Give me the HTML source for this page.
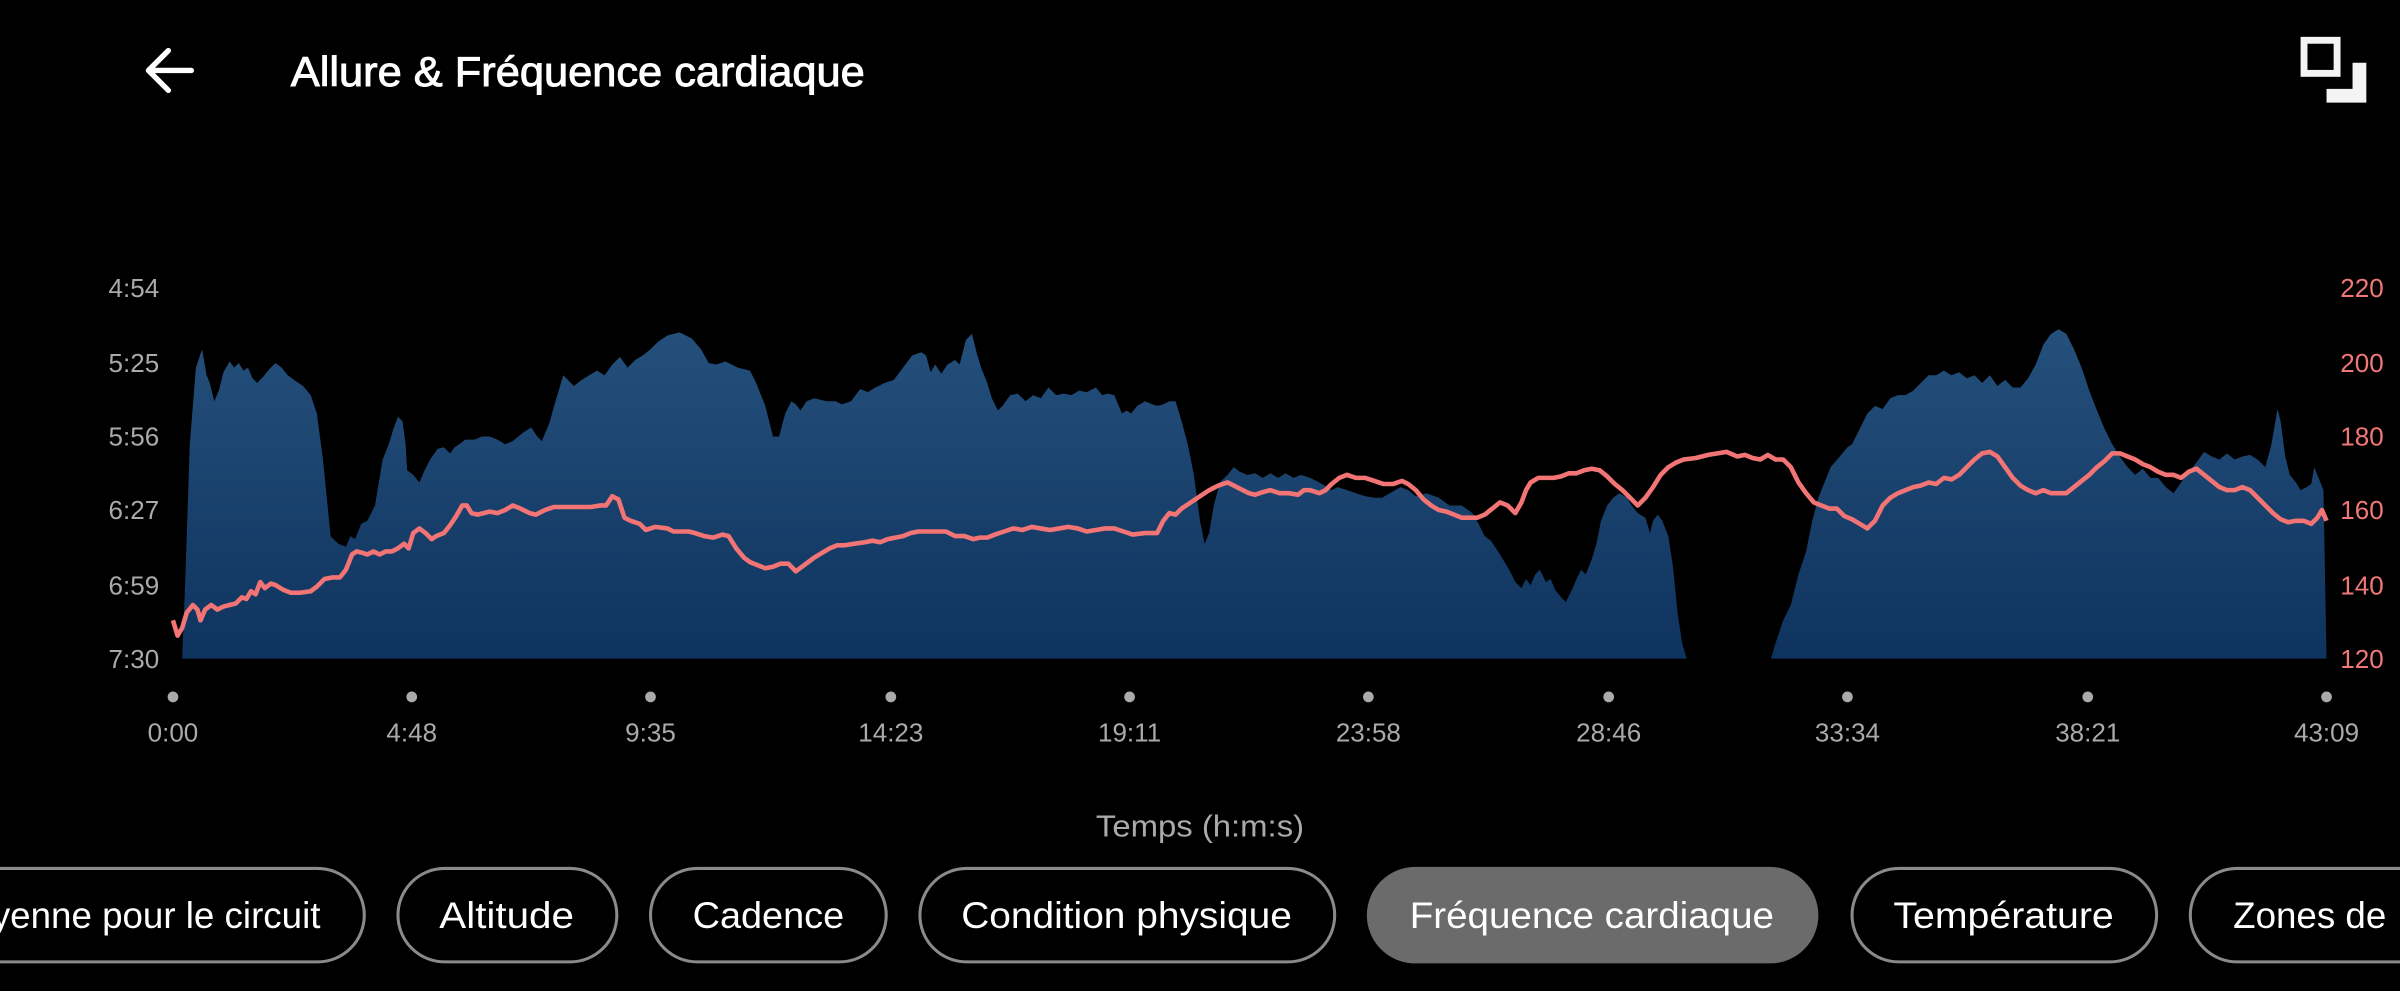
<!DOCTYPE html>
<html><head><meta charset="utf-8"><style>
html,body{margin:0;padding:0;background:#000;overflow:hidden}
svg{display:block}
text{font-family:"Liberation Sans",sans-serif}
</style></head><body>
<svg width="2400" height="991" viewBox="0 0 1568 647" preserveAspectRatio="none">
<defs><linearGradient id="g" x1="0" y1="0" x2="0" y2="1"><stop offset="0" stop-color="#25507c"/><stop offset="1" stop-color="#0e335e"/></linearGradient></defs>
<rect width="1568" height="647" fill="#000"/>
<!-- header -->
<path d="M125 46 H98 M110 33 L97 46 L110 59" stroke="#fff" stroke-width="3.5" fill="none" stroke-linecap="round" stroke-linejoin="round"/>
<text x="190" y="56" font-size="27" fill="#fff" stroke="#fff" stroke-width="0.6" textLength="375" lengthAdjust="spacingAndGlyphs">Allure &amp; Fréquence cardiaque</text>
<rect x="1505.3" y="26.3" width="21.6" height="21.6" fill="none" stroke="#f4f4f4" stroke-width="4.5"/>
<path d="M1537 41 H1546 V67 H1520 V58 H1537 Z" fill="#f4f4f4"/>
<!-- axis labels -->
<g font-size="17" fill="#aaa" text-anchor="end">
<text x="104" y="194">4:54</text><text x="104" y="243">5:25</text><text x="104" y="291">5:56</text><text x="104" y="339">6:27</text><text x="104" y="388">6:59</text><text x="104" y="436">7:30</text></g>
<g font-size="17" fill="#f07878" text-anchor="start">
<text x="1529" y="194">220</text><text x="1529" y="243">200</text><text x="1529" y="291">180</text><text x="1529" y="339">160</text><text x="1529" y="388">140</text><text x="1529" y="436">120</text></g>
<!-- area -->
<polygon fill="url(#g)" points="119,430 121,380 124,290 128,240 132,228 135,245 137,250 140,262 143,255 146,243 150,236 153,240 156,237 159,242 162,240 165,247 168,250 172,246 176,241 180,237 184,240 188,245 192,248 198,252 203,258 207,270 211,300 216,350 221,355 226,357 229,350 232,352 236,342 240,340 245,330 250,300 254,290 257,280 260,272 263,275 265,290 266,307 270,310 274,315 277,308 281,300 286,293 290,292 294,296 297,292 300,290 304,287 310,287 315,285 320,285 325,287 330,290 335,288 341,283 347,279 351,285 354,288 359,276 362,265 365,255 368,245 371,248 375,252 380,248 385,245 390,242 395,245 400,238 405,233 410,240 415,235 420,232 425,228 430,223 436,219 444,217 452,221 458,228 463,237 468,238 474,236 482,240 490,242 494,250 500,265 505,285 509,285 513,270 517,262 520,264 523,268 527,262 532,260 540,262 546,262 550,264 556,262 562,254 567,256 572,253 578,250 584,248 590,240 596,232 602,230 605,232 608,243 611,238 615,244 619,238 624,235 627,238 631,222 635,218 638,230 641,240 645,250 648,260 652,268 655,265 660,258 665,257 670,262 675,258 680,260 685,253 690,258 695,257 700,258 705,255 710,256 716,253 720,258 724,257 728,258 733,270 736,268 739,270 743,265 748,262 753,264 756,265 760,264 764,262 768,262 772,275 776,290 780,310 784,340 787,355 790,348 793,330 797,315 802,310 806,305 810,308 815,310 820,309 825,312 830,309 835,312 840,309 845,312 850,310 856,312 862,315 867,318 870,320 874,318 880,320 886,322 892,324 898,325 903,325 908,322 915,318 920,320 925,324 932,322 940,325 947,330 955,330 962,335 966,342 970,350 974,353 980,362 986,372 990,380 994,384 997,378 1000,382 1003,375 1006,372 1010,380 1013,378 1016,385 1020,390 1023,393 1027,385 1030,378 1033,372 1036,375 1040,365 1043,355 1046,340 1050,330 1054,325 1058,322 1063,325 1066,330 1070,335 1075,338 1078,348 1080,340 1083,336 1086,340 1090,350 1093,370 1096,400 1099,420 1102,430 1157,430 1160,420 1165,405 1170,395 1175,375 1180,360 1184,340 1188,325 1192,315 1196,305 1202,298 1207,292 1210,290 1215,280 1220,270 1225,265 1230,267 1235,260 1240,258 1245,258 1250,255 1255,250 1260,245 1265,245 1270,242 1275,245 1280,243 1285,247 1290,245 1295,250 1300,245 1305,252 1310,248 1315,253 1320,253 1325,247 1330,238 1335,225 1340,218 1345,215 1350,218 1355,228 1360,240 1365,255 1370,268 1375,280 1380,290 1385,298 1390,305 1395,310 1400,306 1405,312 1410,312 1415,318 1420,322 1425,315 1430,308 1435,302 1440,295 1445,298 1450,300 1455,296 1460,300 1465,298 1470,297 1475,300 1480,305 1484,290 1488,267 1490,275 1493,298 1496,310 1500,315 1503,320 1507,318 1510,316 1512,305 1514,310 1516,315 1518,320 1520,430"/>
<!-- HR line -->
<polyline fill="none" stroke="#f27474" stroke-width="3" stroke-linejoin="round" points="113,405 116,415 119,410 122,400 126,395 129,398 131,405 134,398 138,395 142,398 146,396 150,395 154,394 158,390 161,391 164,386 167,388 170,380 173,384 177,381 180,382 185,385 190,387 196,387 203,386 207,383 212,378 217,377 222,377 226,372 230,362 233,360 237,361 240,362 244,360 248,362 252,360 256,360 260,358 264,355 267,358 270,348 274,345 278,348 282,352 285,350 290,348 294,343 298,337 302,330 305,330 308,335 312,336 316,335 320,334 325,335 330,333 335,330 340,332 346,335 350,336 356,333 362,331 370,331 378,331 386,331 392,330 396,330 400,324 404,326 408,338 412,340 418,342 422,346 428,344 436,345 440,347 446,347 450,347 454,348 460,350 466,351 472,349 476,350 481,358 486,364 490,367 495,369 500,371 505,370 510,368 515,368 520,373 524,370 528,367 532,364 537,361 542,358 547,356 552,356 558,355 565,354 570,353 575,354 580,352 585,351 590,350 595,348 600,347 606,347 612,347 618,347 624,350 630,350 636,352 640,351 645,351 650,349 656,347 662,345 668,346 674,344 680,345 686,346 692,345 698,344 704,345 710,347 716,346 722,345 728,345 734,347 740,349 748,348 756,348 760,340 764,335 768,336 772,332 778,328 784,324 790,320 796,317 802,315 808,318 812,320 816,322 820,323 826,321 830,320 836,322 842,322 848,323 852,320 856,320 862,322 866,320 870,316 875,312 880,310 886,312 892,312 898,314 904,316 910,316 916,314 920,316 925,320 930,326 935,330 940,333 945,334 950,336 955,338 960,338 965,338 970,336 975,332 980,328 985,330 990,335 994,328 997,320 1000,315 1005,312 1010,312 1015,312 1020,311 1025,309 1030,309 1035,307 1040,306 1045,307 1050,311 1055,316 1060,320 1065,325 1070,330 1075,325 1080,318 1085,310 1090,305 1095,302 1100,300 1108,299 1116,297 1122,296 1128,295 1135,298 1140,297 1145,299 1150,300 1155,297 1160,300 1165,300 1170,305 1175,315 1180,322 1185,328 1190,330 1195,332 1200,332 1205,337 1210,339 1215,342 1220,345 1225,340 1230,330 1235,325 1240,322 1245,320 1250,318 1255,317 1260,315 1265,316 1270,312 1275,313 1280,310 1285,305 1290,300 1295,296 1300,295 1305,298 1310,305 1315,312 1320,317 1325,320 1330,322 1335,320 1340,322 1345,322 1350,322 1355,318 1360,314 1365,310 1370,305 1375,301 1380,296 1385,296 1390,298 1395,300 1400,303 1405,305 1410,308 1415,310 1420,310 1425,312 1430,308 1435,306 1440,310 1445,314 1450,318 1455,320 1460,320 1465,318 1470,320 1475,325 1480,330 1485,335 1490,339 1495,341 1500,340 1505,340 1510,342 1514,338 1517,333 1520,340"/>
<!-- x ticks -->
<g fill="#aaa"><circle cx="113" cy="455" r="3.5"/><circle cx="269" cy="455" r="3.5"/><circle cx="425" cy="455" r="3.5"/><circle cx="582" cy="455" r="3.5"/><circle cx="738" cy="455" r="3.5"/><circle cx="894" cy="455" r="3.5"/><circle cx="1051" cy="455" r="3.5"/><circle cx="1207" cy="455" r="3.5"/><circle cx="1364" cy="455" r="3.5"/><circle cx="1520" cy="455" r="3.5"/></g>
<g font-size="17" fill="#aaa" text-anchor="middle">
<text x="113" y="484">0:00</text><text x="269" y="484">4:48</text><text x="425" y="484">9:35</text><text x="582" y="484">14:23</text><text x="738" y="484">19:11</text><text x="894" y="484">23:58</text><text x="1051" y="484">28:46</text><text x="1207" y="484">33:34</text><text x="1364" y="484">38:21</text><text x="1520" y="484">43:09</text>
<text x="784" y="546" font-size="20" textLength="136" lengthAdjust="spacingAndGlyphs">Temps (h:m:s)</text></g>
<!-- pills -->
<g fill="none" stroke="#8a8a8a" stroke-width="2">
<rect x="-60" y="567" width="298" height="61" rx="30.5"/>
<rect x="260" y="567" width="143" height="61" rx="30.5"/>
<rect x="425" y="567" width="154" height="61" rx="30.5"/>
<rect x="601" y="567" width="271" height="61" rx="30.5"/>
<rect x="1210" y="567" width="199" height="61" rx="30.5"/>
<rect x="1431" y="567" width="200" height="61" rx="30.5"/>
</g>
<rect x="893" y="566" width="295" height="63" rx="31.5" fill="#6b6b6b"/>
<g font-size="24" fill="#fff" text-anchor="middle">
<text x="102" y="606">yenne pour le circuit</text>
<text x="331" y="606" textLength="88" lengthAdjust="spacingAndGlyphs">Altitude</text>
<text x="502" y="606" textLength="99" lengthAdjust="spacingAndGlyphs">Cadence</text>
<text x="736" y="606" textLength="216" lengthAdjust="spacingAndGlyphs">Condition physique</text>
<text x="1040" y="606" textLength="238" lengthAdjust="spacingAndGlyphs">Fréquence cardiaque</text>
<text x="1309" y="606" textLength="144" lengthAdjust="spacingAndGlyphs">Température</text>
<text x="1459" y="606" text-anchor="start">Zones de</text>
</g>
</svg>
</body></html>
